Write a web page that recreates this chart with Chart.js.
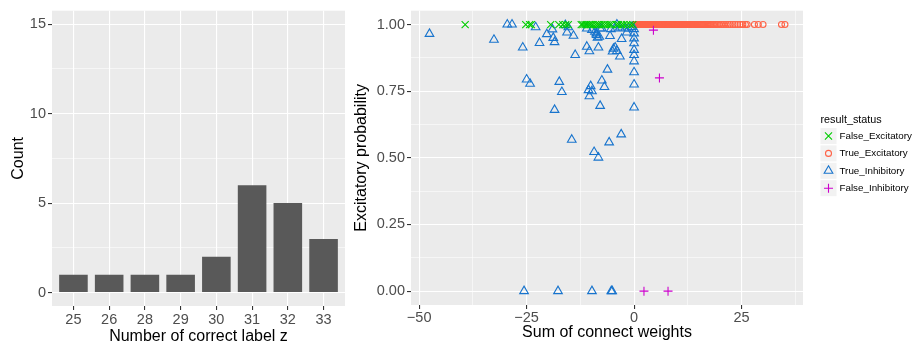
<!DOCTYPE html>
<html>
<head>
<meta charset="utf-8">
<script src="https://cdn.jsdelivr.net/npm/chart.js@4.4.1/dist/chart.umd.min.js"></script>
<style>
  body { margin: 0; background: #fff; width: 912px; height: 343px; overflow: hidden; position: relative; }
  #barChart { position: absolute; left: 0; top: 0; }
  #scatterChart { position: absolute; left: 345px; top: 0; }
</style>
</head>
<body>
<canvas id="barChart" width="345" height="343"></canvas>
<canvas id="scatterChart" width="567" height="343"></canvas>
<script>
// ---- left panel: histogram of correct labels ----
const barCategories = ['25', '26', '28', '29', '30', '31', '32', '33'];
const barCounts = [1, 1, 1, 1, 2, 6, 5, 3];
const countMajor = [0, 5, 10, 15];
const countMinor = [2.5, 7.5, 12.5];

// ---- right panel: scatter, points are [sum of weights, excitatory probability] ----
const falseExcitatory = [
  [-39.3, 1], [-25.2, 1], [-24.3, 1], [-23.9, 1], [-19.4, 1], [-17.5, 1], [-16.6, 1], [-15.9, 1],
  [-15.3, 1], [-12.3, 1], [-11.9, 1], [-11.4, 1], [-11.0, 1], [-10.5, 1], [-10.1, 1], [-9.6, 1],
  [-9.0, 1], [-8.5, 1], [-8.1, 1], [-7.5, 1], [-6.9, 1], [-6.3, 1], [-5.8, 1], [-5.3, 1],
  [-4.1, 1], [-3.6, 1], [-2.9, 1], [-2.4, 1], [-1.7, 1], [-0.9, 1], [-0.3, 1]
];
// dense run of true excitatory neurons along p = 1
const trueExcitatory = [
  [0.05, 1], [0.12, 1], [0.2, 1], [0.26, 1], [0.33, 1], [0.41, 1], [0.48, 1], [0.55, 1], [0.63, 1], [0.7, 1],
  [0.78, 1], [0.85, 1], [0.93, 1], [1.0, 1], [1.08, 1], [1.15, 1], [1.23, 1], [1.31, 1], [1.38, 1], [1.46, 1],
  [1.55, 1], [1.63, 1], [1.7, 1], [1.79, 1], [1.87, 1], [1.95, 1], [2.04, 1], [2.12, 1], [2.2, 1], [2.3, 1],
  [2.38, 1], [2.47, 1], [2.55, 1], [2.64, 1], [2.73, 1], [2.82, 1], [2.91, 1], [3.0, 1], [3.1, 1], [3.19, 1],
  [3.28, 1], [3.38, 1], [3.47, 1], [3.57, 1], [3.66, 1], [3.76, 1], [3.86, 1], [3.96, 1], [4.06, 1], [4.16, 1],
  [4.26, 1], [4.37, 1], [4.47, 1], [4.58, 1], [4.68, 1], [4.79, 1], [4.9, 1], [5.01, 1], [5.12, 1], [5.23, 1],
  [5.35, 1], [5.46, 1], [5.58, 1], [5.7, 1], [5.82, 1], [5.94, 1], [6.06, 1], [6.18, 1], [6.3, 1], [6.43, 1],
  [6.56, 1], [6.69, 1], [6.82, 1], [6.95, 1], [7.08, 1], [7.22, 1], [7.35, 1], [7.49, 1], [7.63, 1], [7.77, 1],
  [7.91, 1], [8.06, 1], [8.2, 1], [8.35, 1], [8.5, 1], [8.65, 1], [8.8, 1], [8.96, 1], [9.12, 1], [9.27, 1],
  [9.43, 1], [9.6, 1], [9.76, 1], [9.93, 1], [10.1, 1], [10.27, 1], [10.44, 1], [10.62, 1], [10.8, 1], [10.98, 1],
  [11.16, 1], [11.35, 1], [11.54, 1], [11.73, 1], [11.92, 1], [12.12, 1], [12.32, 1], [12.52, 1], [12.72, 1],
  [12.93, 1], [13.14, 1], [13.35, 1], [13.57, 1], [13.79, 1], [14.01, 1], [14.24, 1], [14.47, 1], [14.7, 1],
  [14.94, 1], [15.18, 1], [15.42, 1], [15.67, 1], [15.92, 1], [16.18, 1], [16.44, 1], [16.7, 1], [16.97, 1],
  [17.25, 1], [17.53, 1], [17.82, 1], [18.12, 1], [18.43, 1], [18.75, 1], [19.1, 1], [19.5, 1], [19.9, 1],
  [20.4, 1], [20.9, 1], [21.4, 1], [21.9, 1], [22.4, 1], [23.0, 1], [23.5, 1], [24.1, 1], [24.7, 1],
  [25.3, 1], [25.9, 1], [26.3, 1], [28.0, 1], [28.9, 1], [30.0, 1], [34.3, 1], [35.1, 1]
];
const trueInhibitory = [
  [-47.6, 0.965], [-32.6, 0.943], [-29.5, 1.0], [-28.4, 1.0], [-25.9, 0.914], [-22.9, 0.990],
  [-22.0, 0.931], [-20.3, 0.964], [-19.0, 0.982], [-18.8, 0.950], [-18.5, 0.934], [-16.0, 0.998],
  [-15.3, 0.990], [-15.6, 0.970], [-14.1, 0.958], [-13.7, 0.886], [-11.0, 0.917], [-10.4, 0.900],
  [-11.0, 0.985], [-9.8, 0.980], [-9.1, 0.973], [-8.7, 0.961], [-8.8, 0.967], [-7.9, 0.985],
  [-8.1, 0.954], [-8.5, 0.951], [-7.5, 0.985], [-8.3, 0.914], [-5.6, 0.957], [-4.8, 0.909],
  [-4.4, 0.914], [-4.0, 0.901], [-5.0, 0.899], [-3.3, 0.880], [-2.9, 0.946], [-5.4, 0.983],
  [-4.4, 0.985], [-4.0, 1.0], [-3.3, 0.989], [-2.1, 0.985], [-1.7, 0.970], [-1.3, 0.985],
  [-0.5, 0.991], [0.0, 0.983], [0.0, 0.967], [0.0, 0.948], [0.0, 0.930], [0.0, 0.905],
  [0.0, 0.886], [0.0, 0.862], [0.0, 0.821], [0.0, 0.775], [0.0, 0.689],
  [-25.0, 0.794], [-24.2, 0.778], [-17.4, 0.785], [-16.8, 0.747], [-18.5, 0.680], [-6.2, 0.831],
  [-7.5, 0.790], [-6.9, 0.766], [-10.1, 0.769], [-10.6, 0.754], [-9.8, 0.750], [-10.4, 0.731],
  [-7.9, 0.695], [-14.5, 0.568], [-3.0, 0.588], [-5.8, 0.558], [-9.3, 0.522], [-8.3, 0.501],
  [-25.6, 0], [-17.7, 0], [-9.8, 0], [-5.3, 0], [-5.1, 0]
];
const falseInhibitory = [[4.5, 0.979], [5.9, 0.800], [2.3, 0], [7.9, 0]];
const weightMajor = [-50, -25, 0, 25];
const weightMinor = [-37.5, -12.5, 12.5, 37.5];
const probMajor = [0, 0.25, 0.5, 0.75, 1];
const probMinor = [0.125, 0.375, 0.625, 0.875];
const legendTitle = 'result_status';

const FONT = '"Liberation Sans", Arial, sans-serif';

// grey panel like ggplot
const panelBg = {
    id: 'panelBg',
    beforeDraw(chart) {
        const { ctx, chartArea: a } = chart;
        ctx.save();
        ctx.fillStyle = '#ebebeb';
        ctx.fillRect(a.left, a.top, a.right - a.left, a.bottom - a.top);
        ctx.restore();
    }
};

function setTicks(major, minor) {
    return scale => {
        const all = major.map(v => ({ value: v, isMinor: false }))
            .concat(minor.map(v => ({ value: v, isMinor: true })));
        all.sort((a, b) => a.value - b.value);
        scale.ticks = all;
    };
}

function gridOpts() {
    return {
        color: '#ffffff',
        offset: false,
        lineWidth: c => (c.tick && c.tick.isMinor ? 0.55 : 1.1),
        drawTicks: true,
        tickLength: 4,
        tickWidth: 1.1,
        tickColor: c => (c.tick && c.tick.isMinor ? 'rgba(0,0,0,0)' : '#333333')
    };
}

const tickFont = { family: FONT, size: 14.5 };
const titleFont = { family: FONT, size: 16, lineHeight: 1 };

new Chart(document.getElementById('barChart'), {
    type: 'bar',
    data: {
        datasets: [{
            data: barCounts.map((c, i) => ({ x: i + 1, y: c })),
            backgroundColor: '#595959',
            borderWidth: 0,
            categoryPercentage: 1,
            barPercentage: 0.8
        }]
    },
    options: {
        responsive: false,
        animation: false,
        layout: { padding: { left: 0, right: 0, top: 7, bottom: 0 } },
        plugins: { legend: { display: false }, tooltip: { enabled: false } },
        scales: {
            x: {
                type: 'linear',
                min: 0.4,
                max: 8.6,
                offset: false,
                afterBuildTicks: setTicks([1, 2, 3, 4, 5, 6, 7, 8], []),
                afterFit: s => { s.height = 37; },
                border: { display: false },
                grid: gridOpts(),
                ticks: {
                    autoSkip: false, maxRotation: 0, padding: 1,
                    color: '#4d4d4d', font: tickFont,
                    callback: v => barCategories[Math.round(v) - 1]
                },
                title: { display: true, text: 'Number of correct label z', color: '#000', font: titleFont, padding: { top: 0, bottom: -2 } }
            },
            y: {
                min: -0.75,
                max: 15.75,
                afterBuildTicks: setTicks(countMajor, countMinor),
                afterFit: s => { s.width = 52; },
                border: { display: false },
                grid: gridOpts(),
                ticks: {
                    autoSkip: false, padding: 2, color: '#4d4d4d', font: tickFont,
                    callback: (v, i, t) => (t[i].isMinor ? '' : String(v))
                },
                title: { display: true, text: 'Count', color: '#000', font: titleFont, padding: { top: 11, bottom: 0 } }
            }
        }
    },
    plugins: [panelBg]
});

const seriesStyle = [
    { label: 'False_Excitatory', data: falseExcitatory, color: '#00cd00', style: 'crossRot', radius: 5, order: 0 },
    { label: 'True_Excitatory', data: trueExcitatory, color: '#ff6347', style: 'circle', radius: 3, order: 3 },
    { label: 'True_Inhibitory', data: trueInhibitory, color: '#1874cd', style: 'triangle', radius: 5, order: 1 },
    { label: 'False_Inhibitory', data: falseInhibitory, color: '#cd00cd', style: 'cross', radius: 4.5, order: 2 }
];

// ggplot-style legend on the right
const statusLegend = {
    id: 'statusLegend',
    afterDraw(chart) {
        const ctx = chart.ctx;
        const x0 = 475.5;
        ctx.save();
        ctx.textBaseline = 'middle';
        ctx.fillStyle = '#000';
        ctx.font = '10.8px ' + FONT;
        ctx.fillText(legendTitle, x0, 120);
        ctx.font = '9.8px ' + FONT;
        chart.data.datasets.forEach((ds, i) => {
            const cy = 136 + i * 17.4;
            ctx.fillStyle = '#f2f2f2';
            ctx.fillRect(x0, cy - 8, 16, 16);
            ctx.strokeStyle = ds.borderColor;
            ctx.fillStyle = 'rgba(0,0,0,0)';
            ctx.lineWidth = ds.borderWidth;
            Chart.helpers.drawPoint(ctx, { pointStyle: ds.pointStyle, radius: ds.pointRadius, rotation: 0, borderWidth: ds.borderWidth }, x0 + 8, cy);
            ctx.fillStyle = '#000';
            ctx.fillText(ds.label, x0 + 19, cy);
        });
        ctx.restore();
    }
};

new Chart(document.getElementById('scatterChart'), {
    type: 'scatter',
    data: {
        datasets: seriesStyle.map(s => ({
            label: s.label,
            data: s.data.map(p => ({ x: p[0], y: p[1] })),
            pointStyle: s.style,
            pointRadius: s.radius,
            borderColor: s.color,
            backgroundColor: 'rgba(0,0,0,0)',
            borderWidth: 1.1,
            order: s.order
        }))
    },
    options: {
        responsive: false,
        animation: false,
        layout: { padding: { left: 0, right: 109, top: 7, bottom: 0 } },
        plugins: { legend: { display: false }, tooltip: { enabled: false } },
        scales: {
            x: {
                type: 'linear',
                min: -51.9,
                max: 39.3,
                afterBuildTicks: setTicks(weightMajor, weightMinor),
                afterFit: s => { s.height = 38; },
                border: { display: false },
                grid: gridOpts(),
                ticks: {
                    autoSkip: false, maxRotation: 0, padding: 0, color: '#4d4d4d', font: tickFont,
                    callback: (v, i, t) => (t[i].isMinor ? '' : (v < 0 ? '\u2212' + Math.abs(v) : String(v)))
                },
                title: { display: true, text: 'Sum of connect weights', color: '#000', font: titleFont, padding: { top: 0, bottom: 2 } }
            },
            y: {
                min: -0.052,
                max: 1.052,
                afterBuildTicks: setTicks(probMajor, probMinor),
                afterFit: s => { s.width = 66; },
                border: { display: false },
                grid: gridOpts(),
                ticks: {
                    autoSkip: false, padding: 2, color: '#4d4d4d', font: tickFont,
                    callback: (v, i, t) => (t[i].isMinor ? '' : v.toFixed(2))
                },
                title: { display: true, text: 'Excitatory probability', color: '#000', font: titleFont, padding: { top: 9, bottom: 0 } }
            }
        }
    },
    plugins: [panelBg, statusLegend]
});
</script>
</body>
</html>
